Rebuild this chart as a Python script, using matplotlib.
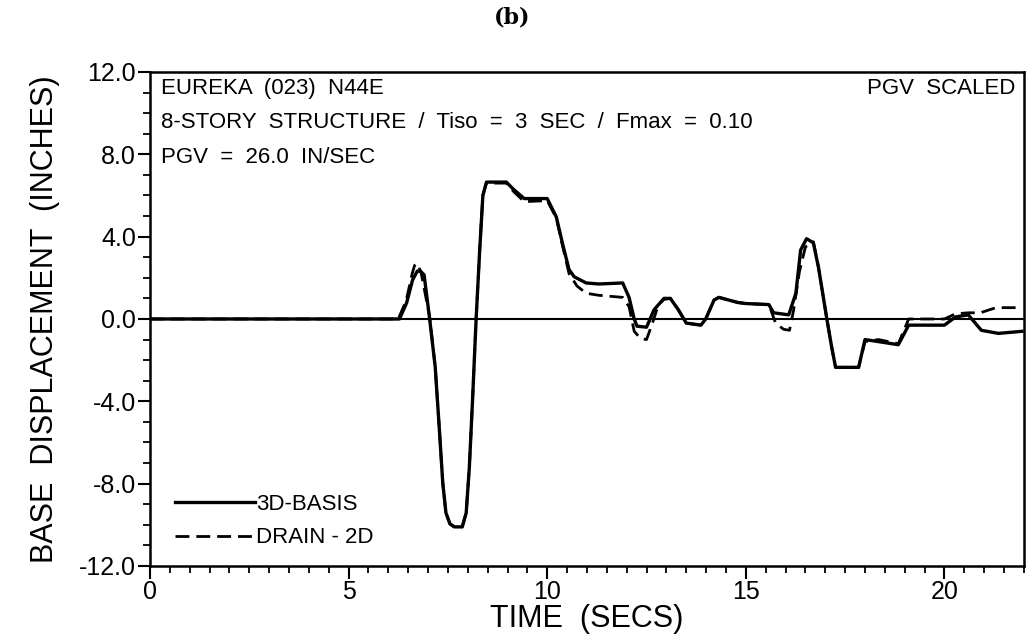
import matplotlib
matplotlib.use("Agg")
import matplotlib.pyplot as plt
from matplotlib.ticker import MultipleLocator, FormatStrFormatter

# 3D-BASIS base displacement (solid)
t_basis = [0.0, 6.0, 6.28, 6.46, 6.61, 6.73, 6.82, 6.9, 6.98, 7.04, 7.18, 7.29, 7.37,
           7.45, 7.55, 7.66, 7.86, 7.96, 8.04, 8.12, 8.21, 8.3, 8.38, 8.47, 8.97,
           9.15, 9.42, 10.0, 10.23, 10.38, 10.55, 10.68, 10.98, 11.3, 11.9, 12.06,
           12.19, 12.26, 12.5, 12.69, 12.94, 13.1, 13.3, 13.5, 13.87, 13.99, 14.2,
           14.32, 14.8, 15.0, 15.58, 15.7, 16.08, 16.26, 16.38, 16.53, 16.7, 16.83,
           17.04, 17.16, 17.26, 17.84, 18.0, 18.34, 18.84, 19.1, 20.0, 20.28, 20.6,
           20.93, 21.36, 21.95]
d_basis = [0.0, 0.0, 0.0, 0.78, 1.9, 2.33, 2.3, 2.14, 0.92, 0.0, -2.33, -5.53, -7.96,
           -9.42, -9.95, -10.1, -10.1, -9.42, -7.18, -3.93, 0.0, 3.35, 6.0, 6.65, 6.65,
           6.3, 5.85, 5.85, 4.95, 3.7, 2.4, 2.05, 1.75, 1.7, 1.75, 1.05,
           0.0, -0.35, -0.4, 0.45, 1.0, 1.0, 0.45, -0.2, -0.3, 0.0, 0.92,
           1.05, 0.8, 0.75, 0.7, 0.3, 0.2, 1.25, 3.35, 3.9, 3.7, 2.5,
           0.0, -1.35, -2.35, -2.35, -1.0, -1.1, -1.25, -0.3, -0.3, 0.1, 0.2,
           -0.55, -0.7, -0.6]

# DRAIN-2D base displacement (dashed)
t_drain = [0.0, 6.0, 6.25, 6.45, 6.6, 6.66, 6.72, 6.82, 6.95, 7.04, 7.18, 7.29, 7.37,
           7.45, 7.55, 7.66, 7.86, 7.96, 8.04, 8.12, 8.21, 8.3, 8.38, 8.47, 8.97,
           9.15, 9.42, 10.0, 10.23, 10.38, 10.55, 10.75, 10.98, 11.3, 11.9, 12.06,
           12.19, 12.35, 12.5, 12.65, 12.8, 12.94, 13.1, 13.3, 13.5, 13.87, 13.99,
           14.2, 14.32, 14.8, 15.0, 15.58, 15.75, 15.95, 16.1, 16.2, 16.35, 16.5,
           16.7, 16.83, 17.04, 17.16, 17.26, 17.84, 18.0, 18.34, 18.84, 19.1, 20.0,
           20.28, 20.6, 20.9, 21.3, 21.8]
d_drain = [0.0, 0.0, 0.0, 0.9, 2.2, 2.6, 2.7, 2.3, 1.0, 0.1, -2.33, -5.53, -7.96,
           -9.42, -9.95, -10.1, -10.1, -9.42, -7.18, -3.93, 0.0, 3.35, 6.0, 6.6, 6.6,
           6.2, 5.7, 5.75, 4.9, 3.6, 2.2, 1.6, 1.25, 1.15, 1.05, 0.6,
           -0.6, -0.95, -1.0, -0.2, 0.7, 0.95, 1.0, 0.45, -0.2, -0.3, 0.0,
           0.92, 1.05, 0.8, 0.75, 0.7, -0.2, -0.5, -0.55, 0.4, 2.3, 3.5,
           3.75, 2.5, 0.0, -1.35, -2.35, -2.35, -1.1, -1.0, -1.2, 0.0, 0.0,
           0.25, 0.3, 0.3, 0.55, 0.55]

y_ticks = [-12.0, -8.0, -4.0, 0.0, 4.0, 8.0, 12.0]
x_ticks = [0, 5, 10, 15, 20]

plt.rcParams['font.family'] = ['Liberation Sans', 'DejaVu Sans']

fig = plt.figure(figsize=(10.29, 6.42), dpi=100)
ax = fig.add_axes([0.1458, 0.1184, 0.8492, 0.7695])

ax.plot(t_basis, d_basis, color='black', lw=2.4, label='3D-BASIS', solid_joinstyle='round')
ax.plot(t_drain, d_drain, color='black', lw=2.0, ls=(0, (5, 2.5)), label='DRAIN - 2D')
ax.axhline(0, color='black', lw=1.5)

ax.set_xlim(0, 22)
ax.set_ylim(-12, 12)
ax.set_yticks(y_ticks)
ax.set_xticks(x_ticks)
ax.yaxis.set_major_formatter(FormatStrFormatter('%.1f'))
ax.xaxis.set_minor_locator(MultipleLocator(0.5))
ax.yaxis.set_minor_locator(MultipleLocator(1.0))
ax.tick_params(which='major', direction='out', length=9, width=1.5, labelsize=18, pad=1)
ax.tick_params(which='minor', direction='out', length=5, width=1.3)
ax.tick_params(axis='y', which='both', right=False)
for s in ax.spines.values():
    s.set_linewidth(1.8)

ax.set_xlabel('TIME  (SECS)', fontsize=22, labelpad=0)
ax.set_ylabel('BASE  DISPLACEMENT  (INCHES)', fontsize=22, labelpad=14)

ax.text(0.012, 0.967, 'EUREKA  (023)  N44E', transform=ax.transAxes, fontsize=16, va='center')
ax.text(0.012, 0.897, '8-STORY  STRUCTURE  /  Tiso  =  3  SEC  /  Fmax  =  0.10',
        transform=ax.transAxes, fontsize=16, va='center')
ax.text(0.012, 0.827, 'PGV  =  26.0  IN/SEC', transform=ax.transAxes, fontsize=16, va='center')
ax.text(0.99, 0.967, 'PGV  SCALED', transform=ax.transAxes, fontsize=16, va='center', ha='right')

ax.legend(loc='lower left', bbox_to_anchor=(0.006, -0.005), frameon=False, fontsize=16,
          handlelength=3.6, handletextpad=0.05, labelspacing=0.55)

fig.text(0.498, 0.972, '(b)', fontsize=16, fontweight='bold', family='DejaVu Serif',
         ha='center', va='center')

fig.savefig('out.png', dpi=100)
